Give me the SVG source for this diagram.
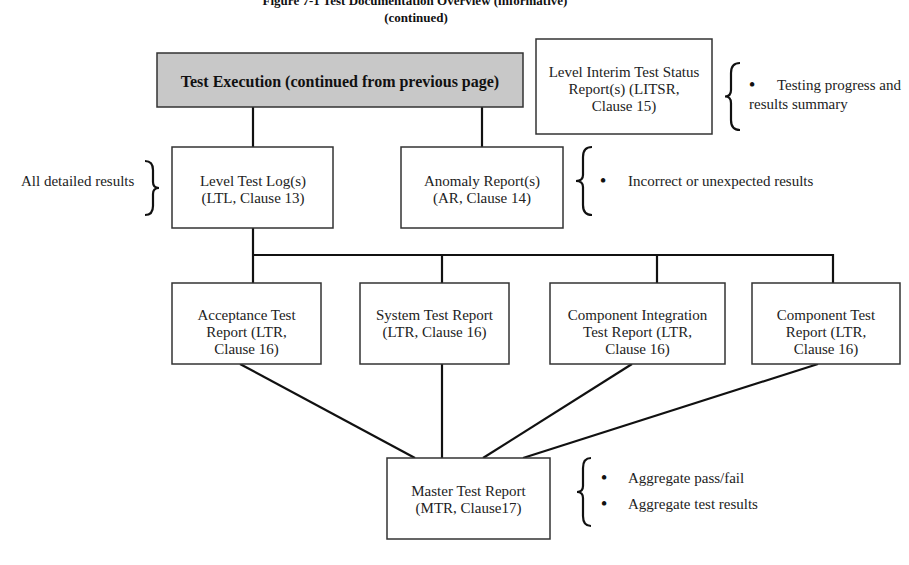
<svg xmlns="http://www.w3.org/2000/svg" width="909" height="565" viewBox="0 0 909 565">
<style>
text{font-family:"Liberation Serif","Times New Roman",serif;fill:#222;font-size:15px}
.c{text-anchor:middle}
.b{font-weight:bold;fill:#111}
.t{font-size:13px}
.dot{font-size:19px;fill:#111}
.box{fill:#fff;stroke:#333;stroke-width:1.5}
.gray{fill:#c8c8c8;stroke:#333;stroke-width:1.5}
.con line{stroke:#111;stroke-width:2.2}
.brace{fill:none;stroke:#111;stroke-width:2.2}
</style>
<rect width="909" height="565" fill="#fff"/>
<text class="c b t" x="415" y="5">Figure 7-1 Test Documentation Overview (informative)</text>
<text class="c b t" x="416" y="22">(continued)</text>

<g id="connectors" class="con">
<line x1="253" y1="107" x2="253" y2="147"/>
<line x1="482" y1="107" x2="482" y2="147"/>
<line x1="253" y1="228" x2="253" y2="283"/>
<line x1="252" y1="255" x2="834" y2="255"/>
<line x1="442" y1="255" x2="442" y2="283"/>
<line x1="657" y1="255" x2="657" y2="283"/>
<line x1="833" y1="254" x2="833" y2="283"/>
<line x1="240" y1="364" x2="415" y2="458"/>
<line x1="442" y1="364" x2="442" y2="458"/>
<line x1="632" y1="364" x2="483" y2="458"/>
<line x1="818" y1="364" x2="523" y2="458"/>
</g>

<g id="test-execution">
<rect class="gray" x="157" y="53" width="366" height="54"/>
<text class="c b" x="340" y="87" style="font-size:16px">Test Execution (continued from previous page)</text>
</g>

<g id="litsr">
<rect class="box" x="536" y="39" width="176" height="95"/>
<text class="c" x="624" y="77">Level Interim Test Status</text>
<text class="c" x="624" y="94">Report(s) (LITSR,</text>
<text class="c" x="624" y="111">Clause 15)</text>
</g>
<g id="litsr-note">
<path class="brace" d="M740,63 Q731,63 731,73 L731,90 Q731,96.5 725,96.5 Q731,96.5 731,103 L731,120 Q731,130 740,130"/>
<text x="752" y="91" class="c dot">•</text>
<text x="777" y="90">Testing progress and</text>
<text x="749" y="109">results summary</text>
</g>

<g id="ltl">
<rect class="box" x="172" y="147" width="161" height="81"/>
<text class="c" x="253" y="186">Level Test Log(s)</text>
<text class="c" x="253" y="203">(LTL, Clause 13)</text>
</g>
<g id="ltl-note">
<text x="21" y="186">All detailed results</text>
<path class="brace" d="M145,161 Q153,161 153,170 L153,182 Q153,188 159,188 Q153,188 153,194 L153,206 Q153,215 145,215"/>
</g>

<g id="ar">
<rect class="box" x="401" y="147" width="162" height="81"/>
<text class="c" x="482" y="186">Anomaly Report(s)</text>
<text class="c" x="482" y="203">(AR, Clause 14)</text>
</g>
<g id="ar-note">
<path class="brace" d="M592,147 Q583,147 583,157 L583,175 Q583,181 576,181 Q583,181 583,187 L583,205 Q583,215 592,215"/>
<text x="603" y="187" class="c dot">•</text>
<text x="628" y="186">Incorrect or unexpected results</text>
</g>

<g id="acceptance">
<rect class="box" x="172" y="283" width="149" height="81"/>
<text class="c" x="246.5" y="320">Acceptance Test</text>
<text class="c" x="246.5" y="337">Report (LTR,</text>
<text class="c" x="246.5" y="354">Clause 16)</text>
</g>

<g id="system">
<rect class="box" x="360" y="283" width="149" height="81"/>
<text class="c" x="434.5" y="320">System Test Report</text>
<text class="c" x="434.5" y="337">(LTR, Clause 16)</text>
</g>

<g id="component-integration">
<rect class="box" x="550" y="283" width="175" height="81"/>
<text class="c" x="637.5" y="320">Component Integration</text>
<text class="c" x="637.5" y="337">Test Report (LTR,</text>
<text class="c" x="637.5" y="354">Clause 16)</text>
</g>

<g id="component">
<rect class="box" x="752" y="283" width="148" height="81"/>
<text class="c" x="826" y="320">Component Test</text>
<text class="c" x="826" y="337">Report (LTR,</text>
<text class="c" x="826" y="354">Clause 16)</text>
</g>

<g id="mtr">
<rect class="box" x="387" y="458" width="163" height="81"/>
<text class="c" x="468.5" y="496">Master Test Report</text>
<text class="c" x="468.5" y="513">(MTR, Clause17)</text>
</g>
<g id="mtr-note">
<path class="brace" d="M591,458 Q583,458 583,468 L583,486 Q583,492 577,492 Q583,492 583,498 L583,516 Q583,526 591,526"/>
<text x="604" y="484" class="c dot">•</text>
<text x="628" y="483">Aggregate pass/fail</text>
<text x="604" y="510" class="c dot">•</text>
<text x="628" y="509">Aggregate test results</text>
</g>
</svg>
